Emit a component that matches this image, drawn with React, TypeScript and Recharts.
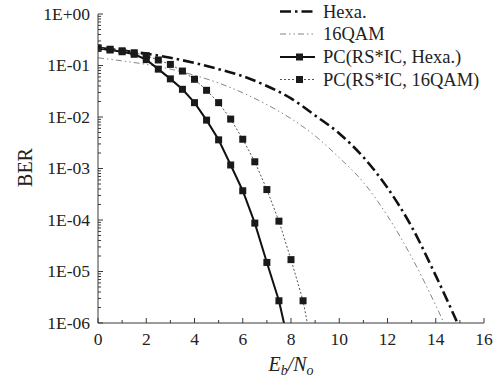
import React from 'react';
import { LineChart, Line, XAxis, YAxis, Legend } from 'recharts';

// ---- data ----
const THEORY_EBNO = [0, 1, 2, 3, 4, 5, 6, 7, 8, 9, 10, 11, 12, 13, 14, 15];
const HEXA_BER = [0.219, 0.195, 0.17, 0.141, 0.112, 0.085, 0.062, 0.04, 0.023, 0.0107, 0.0048, 0.00166, 4.2e-4, 7.4e-5, 8.3e-6, 7.9e-7];
const QAM16_BER = [0.141, 0.123, 0.105, 0.085, 0.0646, 0.0457, 0.0295, 0.0174, 0.0093, 0.0043, 0.00162, 5.4e-4, 1.2e-4, 1.9e-5, 2.2e-6, 2.0e-7];

const PC_HEXA_EBNO = [0, 0.5, 1, 1.5, 2, 2.5, 3, 3.5, 4, 4.5, 5, 5.5, 6, 6.5, 7, 7.5, 8];
const PC_HEXA_BER = [0.216, 0.2, 0.185, 0.165, 0.13, 0.085, 0.055, 0.0345, 0.019, 0.0087, 0.0036, 0.00117, 3.7e-4, 8.7e-5, 1.5e-5, 2.7e-6, 2.5e-7];

const PC_QAM16_EBNO = [0, 0.5, 1, 1.5, 2, 2.5, 3, 3.5, 4, 4.5, 5, 5.5, 6, 6.5, 7, 7.5, 8, 8.5, 9];
const PC_QAM16_BER = [0.22, 0.207, 0.193, 0.177, 0.155, 0.128, 0.105, 0.078, 0.054, 0.033, 0.019, 0.0091, 0.0037, 0.00135, 3.9e-4, 9.5e-5, 1.7e-5, 2.7e-6, 1.6e-7];

const X_TICKS = [0, 1, 2, 3, 4, 5, 6, 7, 8, 9, 10, 11, 12, 13, 14, 15, 16];
const Y_DECADES = [1e-6, 1e-5, 1e-4, 1e-3, 1e-2, 1e-1];
const Y_MINOR_STEPS = [1, 2, 3, 4, 5, 6, 7, 8, 9];
const Y_TICKS = [...Y_DECADES.flatMap((d) => Y_MINOR_STEPS.map((k) => k * d)), 1];

const SERIES_NAMES = ['Hexa.', '16QAM', 'PC(RS*IC, Hexa.)', 'PC(RS*IC, 16QAM)'];

// ---- styles ----
const FONT = '"Liberation Serif", "Times New Roman", serif';
const AXIS = '#3a3a3a';
const TEXT = '#222';

const STYLES: Record<string, { stroke: string; width: number; dash?: string; marker: boolean }> = {
  'Hexa.': { stroke: '#111', width: 2.6, dash: '11 4 2.5 4', marker: false },
  '16QAM': { stroke: '#777', width: 0.9, dash: '6 3 1.5 3 1.5 3', marker: false },
  'PC(RS*IC, Hexa.)': { stroke: '#111', width: 2, marker: true },
  'PC(RS*IC, 16QAM)': { stroke: '#555', width: 1, dash: '2 2', marker: true },
};

const zip = (xs: number[], ys: number[]) => xs.map((x, i) => ({ x, y: ys[i] }));

const fmtExp = (v: number) => {
  const e = Math.round(Math.log10(v));
  const s = Math.abs(e).toString().padStart(2, '0');
  return `1E${e < 0 ? '-' : '+'}${s}`;
};

const YTick = (props: any) => {
  const { x, y, payload } = props;
  const v = payload.value;
  const e = Math.log10(v);
  const major = Math.abs(e - Math.round(e)) < 1e-6;
  return (
    <g>
      <line x1={x} x2={x + (major ? 5 : 3)} y1={y} y2={y} stroke={AXIS} strokeWidth={1} />
      {major && (
        <text x={x - 8} y={y} dy="0.34em" textAnchor="end" fontFamily={FONT} fontSize={17.5} fill={TEXT}>
          {fmtExp(v)}
        </text>
      )}
    </g>
  );
};

const XTick = (props: any) => {
  const { x, y, payload } = props;
  const v = payload.value;
  const major = v % 2 === 0;
  return (
    <g>
      <line x1={x} x2={x} y1={y} y2={y - (major ? 5 : 3)} stroke={AXIS} strokeWidth={1} />
      {major && (
        <text x={x} y={y + 22} textAnchor="middle" fontFamily={FONT} fontSize={17.5} fill={TEXT}>
          {v}
        </text>
      )}
    </g>
  );
};

const XLabel = (props: any) => {
  const vb = props.viewBox;
  const cx = vb.x + vb.width / 2;
  return (
    <text x={cx} y={vb.y + 48} textAnchor="middle" fontFamily={FONT} fontSize={20} fontStyle="italic" fill={TEXT}>
      <tspan>E</tspan>
      <tspan fontSize={14} dy={4}>b</tspan>
      <tspan dy={-4}>/N</tspan>
      <tspan fontSize={14} dy={4}>o</tspan>
    </text>
  );
};

const YLabel = (props: any) => {
  const vb = props.viewBox;
  const cx = vb.x + 25;
  const cy = vb.y + vb.height / 2 - 1;
  return (
    <text
      x={cx}
      y={cy}
      transform={`rotate(-90, ${cx}, ${cy})`}
      textAnchor="middle"
      dy="0.34em"
      fontFamily={FONT}
      fontSize={20}
      fill={TEXT}
    >
      BER
    </text>
  );
};

const SquareDot = (props: any) => {
  const { cx, cy, payload, index } = props;
  if (cx == null || cy == null || payload.y < 1e-6) return <g key={`d${index}`} />;
  return <rect key={`d${index}`} x={cx - 3.5} y={cy - 3.5} width={7} height={7} fill="#1a1a1a" />;
};

const LegendBox = () => {
  const rows = [11.5, 34, 57, 79.5];
  return (
    <svg width={224} height={95} style={{ overflow: 'visible', display: 'block' }}>
      {SERIES_NAMES.map((name, i) => {
        const st = STYLES[name];
        const y = rows[i];
        return (
          <g key={name}>
            <line x1={0} x2={35} y1={y} y2={y} stroke={st.stroke} strokeWidth={st.width} strokeDasharray={st.dash} />
            {st.marker && <rect x={16} y={y - 3.5} width={7} height={7} fill="#1a1a1a" />}
            <text x={43} y={y} dy="0.34em" fontFamily={FONT} fontSize={18.5} fill={TEXT}>
              {name}
            </text>
          </g>
        );
      })}
    </svg>
  );
};

export default function App() {
  const seriesData = [
    zip(THEORY_EBNO, HEXA_BER),
    zip(THEORY_EBNO, QAM16_BER),
    zip(PC_HEXA_EBNO, PC_HEXA_BER),
    zip(PC_QAM16_EBNO, PC_QAM16_BER),
  ];
  return (
    <div style={{ position: 'absolute', left: 0, top: 0, width: 504, height: 380 }}>
      <LineChart width={504} height={380} margin={{ top: 14, right: 20, bottom: 27, left: 0 }}>
        <XAxis
          dataKey="x"
          type="number"
          domain={[0, 16]}
          ticks={X_TICKS}
          interval={0}
          allowDataOverflow
          tickSize={0}
          tickMargin={0}
          tickLine={false}
          axisLine={{ stroke: AXIS, strokeWidth: 1 }}
          tick={(p: any) => <XTick {...p} />}
          height={30}
          label={{ content: XLabel }}
        />
        <YAxis
          type="number"
          scale="log"
          domain={[1e-6, 1]}
          ticks={Y_TICKS}
          interval={0}
          allowDataOverflow
          tickSize={0}
          tickMargin={0}
          tickLine={false}
          axisLine={{ stroke: AXIS, strokeWidth: 1 }}
          tick={(p: any) => <YTick {...p} />}
          width={98}
          label={{ content: YLabel }}
        />
        <Legend
          layout="vertical"
          align="center"
          verticalAlign="middle"
          wrapperStyle={{ left: 280, top: 0, width: 224, height: 95 }}
          content={() => <LegendBox />}
        />
        {SERIES_NAMES.map((name, i) => {
          const st = STYLES[name];
          return (
            <Line
              key={name}
              name={name}
              data={seriesData[i]}
              dataKey="y"
              type={st.marker ? 'linear' : 'monotone'}
              stroke={st.stroke}
              strokeWidth={st.width}
              strokeDasharray={st.dash}
              dot={st.marker ? (p: any) => <SquareDot {...p} /> : false}
              activeDot={false}
              isAnimationActive={false}
              legendType="line"
            />
          );
        })}
      </LineChart>
    </div>
  );
}
